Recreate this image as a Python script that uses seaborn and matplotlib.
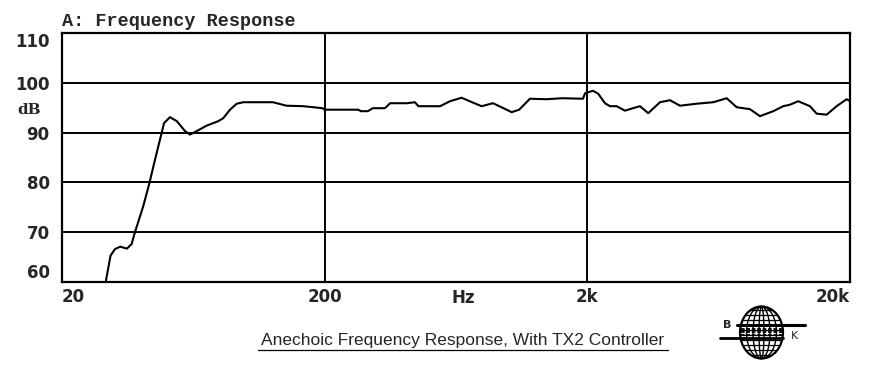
import numpy as np
import pandas as pd
import seaborn as sns
import matplotlib.pyplot as plt
from matplotlib.patches import Ellipse

# frequency response (Hz, dB)
freq = [29.4, 30.6, 31.8, 33.3, 35.3, 36.8, 37.9, 40.8, 43.0, 45.2, 47.2, 48.9,
        51.5, 54.7, 58.8, 61.4, 65.1, 71.1, 78.7, 82.2, 87.2, 92.5, 98.0, 127,
        143, 166, 196, 200, 268, 275, 292, 305, 339, 355, 412, 441, 455, 550,
        600, 664, 720, 792, 874, 950, 1030, 1100, 1209, 1400, 1600, 1924, 1960,
        2100, 2200, 2334, 2438, 2585, 2780, 2983, 3172, 3410, 3780, 4126, 4504,
        5212, 6030, 6782, 7402, 8318, 9080, 10204, 11136, 11808, 12700, 14078,
        14928, 16290, 17784, 19410, 20000]
db = [60.3, 65.3, 66.6, 67.1, 66.7, 67.6, 70.0, 75.3, 79.8, 84.6, 88.6, 91.9,
      93.1, 92.3, 90.3, 89.6, 90.3, 91.4, 92.3, 92.9, 94.6, 95.8, 96.1, 96.1,
      95.4, 95.3, 94.9, 94.6, 94.6, 94.3, 94.3, 94.9, 94.9, 95.9, 95.9, 96.1,
      95.3, 95.3, 96.3, 97.0, 96.2, 95.3, 95.9, 95.0, 94.1, 94.6, 96.8, 96.7,
      96.9, 96.8, 97.9, 98.4, 97.8, 95.9, 95.3, 95.3, 94.4, 94.9, 95.3, 93.9,
      96.1, 96.5, 95.4, 95.8, 96.1, 96.9, 95.1, 94.7, 93.3, 94.3, 95.3, 95.6,
      96.3, 95.3, 93.8, 93.6, 95.3, 96.7, 96.3]

x_ticks = [20, 200, 2000, 20000]
x_labels = ['20', '200', '2k', '20k']
y_ticks = [60, 70, 80, 90, 100, 110]

df = pd.DataFrame({'freq': freq, 'db': db})

sns.set_style('white')
fig = plt.figure(figsize=(8.9, 3.65), dpi=100)
ax = fig.add_axes([0.0697, 0.2274, 0.8854, 0.6822])

sns.lineplot(data=df, x='freq', y='db', color='black', linewidth=1.5, ax=ax,
             sort=False, estimator=None)
ax.set_xscale('log')
ax.set_xlim(20, 20000)
ax.set_ylim(60, 110)
ax.minorticks_off()
ax.set_xticks(x_ticks)
ax.set_xticklabels(x_labels)
ax.set_yticks(y_ticks)
ax.set_yticklabels([str(v) for v in y_ticks])
ax.grid(True, color='black', linewidth=1.4)
ax.set_axisbelow(True)
ax.set_xlabel('')
ax.set_ylabel('')
for s in ax.spines.values():
    s.set_color('black')
    s.set_linewidth(1.6)
ax.tick_params(length=0, labelsize=12, pad=4)
for lab in ax.get_xticklabels() + ax.get_yticklabels():
    lab.set_fontweight('bold')
    lab.set_fontfamily('DejaVu Sans')
xl = ax.get_xticklabels()
xl[0].set_ha('left')
xl[-1].set_ha('right')
yl = ax.get_yticklabels()
yl[0].set_va('bottom')
yl[-1].set_va('top')
ax.tick_params(axis='y', pad=9)

ax.text(672, -0.03, 'Hz', transform=ax.get_xaxis_transform(), ha='center',
        va='top', fontsize=12, fontweight='bold', family='DejaVu Sans')

fig.text(62 / 890, 1 - 21 / 365, 'A: Frequency Response', ha='left', va='center',
         fontsize=13.3, fontweight='bold', family='Liberation Mono')
fig.text(29 / 890, 1 - 110 / 365, 'dB', ha='center', va='center',
         fontsize=11, fontweight='bold', family='DejaVu Serif')

# caption, underlined
cap = fig.text(463 / 890, 1 - 341 / 365,
               'Anechoic Frequency Response, With TX2 Controller',
               ha='center', va='center', fontsize=12.5, family='Liberation Sans')
fig.add_artist(plt.Line2D([258 / 890, 668 / 890], [1 - 350 / 365] * 2,
                          color='black', linewidth=0.9, transform=fig.transFigure))

# B&K globe logo, drawn in pixel units
lg = fig.add_axes([705 / 890, 0, 110 / 890, 70 / 365])
lg.set_xlim(705, 815)
lg.set_ylim(365, 295)
lg.axis('off')
cx, cy, w, h = 761.5, 332.5, 43, 52
globe = Ellipse((cx, cy), w, h, fill=False, edgecolor='black', linewidth=1.6)
lg.add_patch(globe)
for ww in [30, 17, 5]:
    lg.add_patch(Ellipse((cx, cy), ww, h, fill=False, edgecolor='black', linewidth=1.0))
for yy in np.arange(310, 358, 5):
    ln, = lg.plot([cx - w / 2, cx + w / 2], [yy, yy], color='black', linewidth=0.9)
    ln.set_clip_path(globe)
lg.plot([737, 805], [325, 325], color='black', linewidth=2.2)
lg.plot([720, 783], [338, 338], color='black', linewidth=2.0)
for yy in [328.5, 332, 335]:
    lg.plot([741, 782], [yy, yy], color='black', linewidth=1.3, dashes=(2, 1))
lg.text(727, 330, 'B', ha='center', va='bottom', fontsize=8, fontweight='bold',
        family='DejaVu Sans')
lg.text(795, 336, 'K', ha='center', va='center', fontsize=8, family='DejaVu Sans')

fig.savefig('out.png', dpi=100)
